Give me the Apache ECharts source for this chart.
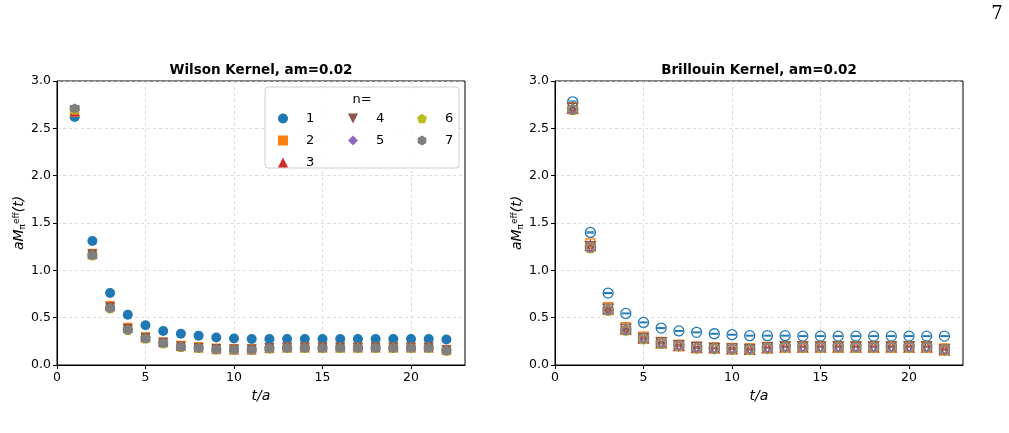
<!DOCTYPE html>
<html>
<head>
<meta charset="utf-8">
<script src="https://cdn.jsdelivr.net/npm/echarts@6/dist/echarts.min.js"></script>
<style>
  html, body { margin: 0; padding: 0; background: #fff; }
  #main { width: 1009px; height: 433px; }
</style>
</head>
<body>
<div id="main"></div>
<script>
// time slices
var tVals = [1,2,3,4,5,6,7,8,9,10,11,12,13,14,15,16,17,18,19,20,21,22];

// Wilson kernel, n = 1..7
var wilson1 = [2.62,1.31,0.76,0.53,0.42,0.36,0.33,0.31,0.29,0.28,0.275,0.275,0.275,0.275,0.275,0.275,0.275,0.275,0.275,0.275,0.275,0.27];
var wilson2 = [2.67,1.18,0.63,0.40,0.30,0.245,0.21,0.195,0.18,0.175,0.175,0.185,0.19,0.19,0.19,0.19,0.19,0.19,0.19,0.19,0.19,0.165];
var wilson3 = [2.68,1.17,0.62,0.39,0.29,0.24,0.20,0.185,0.17,0.165,0.165,0.18,0.185,0.185,0.185,0.185,0.185,0.185,0.185,0.185,0.185,0.16];
var wilson4 = [2.69,1.17,0.61,0.38,0.285,0.235,0.195,0.18,0.17,0.165,0.165,0.18,0.185,0.185,0.185,0.185,0.185,0.185,0.185,0.185,0.185,0.155];
var wilson5 = [2.70,1.16,0.61,0.38,0.28,0.23,0.195,0.18,0.165,0.16,0.16,0.175,0.18,0.18,0.18,0.18,0.18,0.18,0.18,0.18,0.18,0.155];
var wilson6 = [2.70,1.16,0.60,0.37,0.28,0.23,0.19,0.18,0.165,0.16,0.16,0.175,0.18,0.18,0.18,0.18,0.18,0.18,0.18,0.18,0.18,0.15];
var wilson7 = [2.71,1.16,0.60,0.37,0.28,0.23,0.19,0.18,0.165,0.16,0.16,0.175,0.18,0.18,0.18,0.18,0.18,0.18,0.18,0.18,0.18,0.15];
var wilsonErr = [0.012,0.008,0.006,0.005,0.005,0.004,0.004,0.004,0.004,0.004,0.004,0.004,0.004,0.004,0.004,0.004,0.004,0.004,0.004,0.004,0.004,0.004];

// Brillouin kernel, n = 1..7
var brill1 = [2.78,1.40,0.76,0.545,0.45,0.39,0.36,0.345,0.33,0.32,0.31,0.31,0.31,0.305,0.305,0.305,0.305,0.305,0.305,0.305,0.305,0.305];
var brill2 = [2.72,1.285,0.61,0.40,0.30,0.245,0.215,0.195,0.185,0.18,0.175,0.19,0.20,0.20,0.20,0.20,0.20,0.20,0.20,0.20,0.20,0.175];
var brill3 = [2.71,1.26,0.59,0.38,0.285,0.235,0.205,0.185,0.18,0.17,0.165,0.18,0.19,0.19,0.19,0.19,0.19,0.19,0.19,0.19,0.19,0.16];
var brill4 = [2.71,1.25,0.59,0.38,0.28,0.235,0.205,0.185,0.175,0.17,0.165,0.18,0.19,0.19,0.19,0.19,0.19,0.19,0.19,0.19,0.19,0.16];
var brill5 = [2.70,1.24,0.58,0.37,0.28,0.23,0.205,0.18,0.175,0.17,0.165,0.18,0.19,0.19,0.19,0.19,0.19,0.19,0.19,0.19,0.19,0.16];
var brill6 = [2.70,1.24,0.58,0.37,0.28,0.23,0.205,0.18,0.175,0.17,0.165,0.18,0.19,0.19,0.19,0.19,0.19,0.19,0.19,0.19,0.19,0.16];
var brill7 = [2.70,1.24,0.58,0.37,0.28,0.23,0.205,0.18,0.175,0.17,0.165,0.18,0.19,0.19,0.19,0.19,0.19,0.19,0.19,0.19,0.19,0.16];
var brillErr = [0.008,0.006,0.005,0.004,0.004,0.004,0.004,0.004,0.004,0.004,0.004,0.004,0.004,0.004,0.004,0.004,0.004,0.004,0.004,0.004,0.004,0.004];

var names = ['1','2','3','4','5','6','7'];
var colors = ['#1f77b4','#ff7f0e','#d62728','#8c564b','#9467bd','#bcbd22','#7f7f7f'];
var symbols = [
  'circle',
  'rect',
  'triangle',
  'path://M0,0 L10,0 L5,10 Z',
  'diamond',
  'path://M5,0 L9.76,3.45 L7.94,9.05 L2.06,9.05 L0.24,3.45 Z',
  'path://M5,0 L9.33,2.5 L9.33,7.5 L5,10 L0.67,7.5 L0.67,2.5 Z'
];
var sizes = [10, 9, 10, 10, 9, 10, 10];

var wilsonData = [wilson1, wilson2, wilson3, wilson4, wilson5, wilson6, wilson7];
var brillData = [brill1, brill2, brill3, brill4, brill5, brill6, brill7];

var FONT = 'DejaVu Sans';

var myChart = echarts.init(document.getElementById('main'));

function errBars(vals, errs) {
  return tVals.map(function (t, i) { return [t, vals[i] - errs[i], vals[i] + errs[i]]; });
}

function renderErr(params, api) {
  var lo = api.coord([api.value(0), api.value(1)]);
  var hi = api.coord([api.value(0), api.value(2)]);
  var c = api.visual('color');
  var st = { stroke: c, lineWidth: 1.2 };
  return {
    type: 'group',
    children: [
      { type: 'line', shape: { x1: lo[0], y1: lo[1], x2: hi[0], y2: hi[1] }, style: st },
      { type: 'line', shape: { x1: lo[0] - 4, y1: lo[1], x2: lo[0] + 4, y2: lo[1] }, style: st },
      { type: 'line', shape: { x1: hi[0] - 4, y1: hi[1], x2: hi[0] + 4, y2: hi[1] }, style: st }
    ]
  };
}

var series = [];
// left panel (filled markers) first so the legend takes its icons
for (var k = 0; k < 7; k++) {
  series.push({
    name: 'err-w' + k, type: 'custom', xAxisIndex: 0, yAxisIndex: 0,
    renderItem: renderErr, itemStyle: { color: colors[k] },
    data: errBars(wilsonData[k], wilsonErr), z: 2, silent: true
  });
  series.push({
    name: names[k], type: 'scatter', xAxisIndex: 0, yAxisIndex: 0,
    symbol: symbols[k], symbolSize: sizes[k],
    itemStyle: { color: colors[k], opacity: 1 },
    data: tVals.map(function (t, i) { return [t, wilsonData[k][i]]; }), z: 2
  });
}
// right panel (open markers)
for (var k = 0; k < 7; k++) {
  series.push({
    name: 'err-b' + k, type: 'custom', xAxisIndex: 1, yAxisIndex: 1,
    renderItem: renderErr, itemStyle: { color: colors[k] },
    data: errBars(brillData[k], brillErr), z: 2, silent: true
  });
  series.push({
    name: names[k], type: 'scatter', xAxisIndex: 1, yAxisIndex: 1,
    symbol: symbols[k], symbolSize: sizes[k],
    itemStyle: { color: 'rgba(0,0,0,0)', borderColor: colors[k], borderWidth: 1.3, opacity: 1 },
    data: tVals.map(function (t, i) { return [t, brillData[k][i]]; }), z: 2
  });
}

function xAx(idx) {
  return {
    type: 'value', gridIndex: idx, min: 0, max: 23.05, interval: 5,
    name: 't/a', nameLocation: 'middle', nameGap: 23,
    nameTextStyle: { fontFamily: FONT, fontStyle: 'italic', fontSize: 14, color: '#000' },
    axisLine: { show: true, onZero: false, lineStyle: { color: '#000', width: 1 } },
    axisTick: { show: true, length: 4, customValues: [0, 5, 10, 15, 20], lineStyle: { color: '#000' } },
    axisLabel: { fontFamily: FONT, fontSize: 12.5, color: '#000', margin: 6, customValues: [0, 5, 10, 15, 20] },
    splitLine: { show: true, lineStyle: { type: [3, 3], color: '#d4d4d4', width: 0.8 } }
  };
}
function yAx(idx) {
  return {
    type: 'value', gridIndex: idx, min: 0, max: 3, interval: 0.5,
    name: '{a|aM}{s|π}{e|eff}{a|(t)}', nameLocation: 'middle', nameGap: 30, nameRotate: 90,
    nameTextStyle: {
      fontFamily: FONT, fontSize: 14, color: '#000',
      rich: {
        a: { fontFamily: FONT, fontStyle: 'italic', fontSize: 14, color: '#000' },
        s: { fontFamily: FONT, fontSize: 9, color: '#000', verticalAlign: 'bottom', padding: [6, 0, 0, 0] },
        e: { fontFamily: FONT, fontSize: 9, color: '#000', verticalAlign: 'top', padding: [0, 0, 6, 0] }
      }
    },
    axisLine: { show: true, onZero: false, lineStyle: { color: '#000', width: 1 } },
    axisTick: { show: true, length: 4, lineStyle: { color: '#000' } },
    axisLabel: { fontFamily: FONT, fontSize: 12.5, color: '#000', margin: 6,
      formatter: function (v) { return v.toFixed(1); } },
    splitLine: { show: true, lineStyle: { type: [3, 3], color: '#d4d4d4', width: 0.8 } }
  };
}

var legendBase = {
  orient: 'vertical', top: 112, padding: 0, itemWidth: 10, itemHeight: 10, itemGap: 9,
  selectedMode: false, z: 6,
  textStyle: { fontFamily: FONT, fontSize: 13, color: '#000', padding: [0, 0, 0, 13] }
};

myChart.setOption({
  animation: false,
  backgroundColor: '#fff',
  grid: [
    { left: 57, top: 81, width: 408, height: 284, show: true, borderColor: '#000', borderWidth: 1, backgroundColor: 'transparent' },
    { left: 555, top: 81, width: 408, height: 284, show: true, borderColor: '#000', borderWidth: 1, backgroundColor: 'transparent' }
  ],
  xAxis: [xAx(0), xAx(1)],
  yAxis: [yAx(0), yAx(1)],
  legend: [
    Object.assign({}, legendBase, { left: 278, data: ['1', '2', '3'] }),
    Object.assign({}, legendBase, { left: 348, data: ['4', '5'] }),
    Object.assign({}, legendBase, { left: 417, data: ['6', '7'] })
  ],
  graphic: [
    { type: 'text', x: 261, y: 70, z: 10,
      style: { text: 'Wilson Kernel, am=0.02', font: 'bold 13.5px "DejaVu Sans"', fill: '#000', textAlign: 'center', textVerticalAlign: 'middle' } },
    { type: 'text', x: 759, y: 70, z: 10,
      style: { text: 'Brillouin Kernel, am=0.02', font: 'bold 13.5px "DejaVu Sans"', fill: '#000', textAlign: 'center', textVerticalAlign: 'middle' } },
    { type: 'rect', z: 5, shape: { x: 265, y: 87, width: 194, height: 81, r: 3 },
      style: { fill: 'rgba(255,255,255,0.85)', stroke: '#d0d0d0', lineWidth: 1 } },
    { type: 'text', x: 362, y: 100, z: 10,
      style: { text: 'n=', font: '13px "DejaVu Sans"', fill: '#000', textAlign: 'center', textVerticalAlign: 'middle' } },
    { type: 'text', x: 997, y: 14, z: 10,
      style: { text: '7', font: '18px "DejaVu Serif"', fill: '#000', textAlign: 'center', textVerticalAlign: 'middle' } }
  ],
  series: series
});
</script>
</body>
</html>
